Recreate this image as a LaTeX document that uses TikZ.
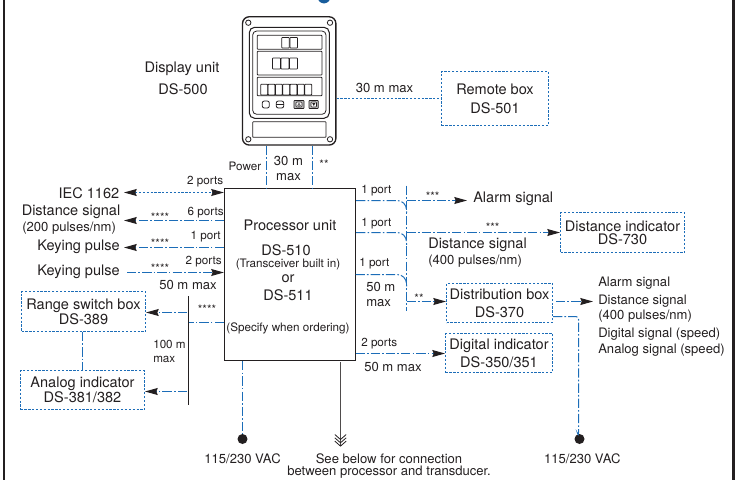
\documentclass[tikz,border=0pt]{standalone}
\usepackage{fontspec}
\setmainfont{TeX Gyre Heros}
\usetikzlibrary{arrows.meta}
\definecolor{linkblue}{HTML}{1C6DB8}
\definecolor{inkdark}{HTML}{231F20}
\newcommand{\fbig}{\fontsize{10.9pt}{12pt}\selectfont}
\newcommand{\fmid}{\fontsize{9.8pt}{11.5pt}\selectfont}
\newcommand{\fsmall}{\fontsize{8.75pt}{10.5pt}\selectfont}

\begin{document}
\begin{tikzpicture}[x=0.75pt,y=-0.75pt,>={Stealth[length=9.5pt,width=5.2pt,inset=1pt,color=inkdark]}]
	\tikzset{txt/.style = {inner sep=0pt,text=inkdark,align=center},
		big/.style = {txt,font=\fbig},
		mid/.style = {txt,font=\fmid},
		small/.style = {txt,font=\fsmall},
		unitbox/.style = {shape=rectangle,draw=linkblue,line width=0.75pt,dash pattern=on 1.7pt off 1.2pt,inner sep=0pt,text=inkdark,align=center,font=\fbig},
		dotlink/.style = {draw=linkblue,line width=0.75pt,dash pattern=on 1.7pt off 1.2pt},
		sigline/.style = {draw=linkblue,line width=0.75pt,dash pattern=on 7pt off 1.6pt on 1.2pt off 1.6pt},
		panel/.style = {draw=inkdark,line width=0.6pt,rounded corners=0.5pt},
		feed/.style = {circle,fill=inkdark,inner sep=0pt,minimum size=7.5pt}}
	\clip (0,0) rectangle (739,479);
	% frame and what is left of the heading
	\fill[linkblue!85!black] (324,-3) circle (4.8pt);
	\draw[inkdark,line width=1.9pt] (4,-5) -- (4,485);
	\draw[inkdark,line width=1.9pt] (733.5,-5) -- (733.5,485);

	% display unit
	\node[shape=rectangle,draw=inkdark,line width=1pt,rounded corners=5pt,minimum width=70pt,minimum height=96.2pt] (display) at (289.2,80.9) {};
	\draw[panel,line width=0.8pt,rounded corners=4pt] (249.3,27.3) rectangle (329.3,118.3);
	\draw[panel,rounded corners=3pt] (252.7,31) rectangle (326,114.3);
	\draw[panel] (257.3,35.3) rectangle (322,49.3);
	\draw[panel] (257.3,51.3) rectangle (322,75);
	\draw[panel] (257.3,77.3) rectangle (322,95.7);
	\draw[panel] (252.7,121.7) rectangle (326,137.3);
	\foreach \cx in {281.7,289.9} \draw[panel] (\cx,37.5) rectangle +(7.6,10.5);
	\foreach \cx in {272.5,281,289.5} \draw[panel] (\cx,58) rectangle +(8,11);
	\foreach \n in {0,...,6} \draw[panel] (260.7+\n*7.33,84.3) rectangle +(7,10.7);
	\draw[panel,rounded corners=1.5pt] (262.3,101) rectangle (269.3,108);
	\draw[panel,rounded corners=1.5pt] (276.3,101) rectangle (283.7,108);
	\draw[panel] (276.3,104) -- (283.7,104);
	\draw[panel,fill=black!25] (294,100.5) rectangle (304,108.5);
	\draw[panel,fill=white,line width=0.4pt] (296,102) rectangle (302,107);
	\draw[panel,fill=black!25] (309,100.5) rectangle (318.3,108.5);
	\draw[panel,fill=white,line width=0.4pt] (311,102) rectangle (316.5,107);
	\draw[panel,line width=0.4pt] (299,103) -- (297.4,106) -- (300.6,106) -- cycle;
	\fill[inkdark] (313.8,106) -- (312.2,103) -- (315.4,103) -- cycle;
	\foreach \sx/\sy in {248.3/22.7,330/22.7,248.3/139.3,330/139.3}
		\draw[inkdark,fill=white,line width=0.6pt] (\sx,\sy) circle (2pt);

	% units
	\node[shape=rectangle,draw=inkdark,line width=0.9pt,minimum width=98.25pt,minimum height=129pt,inner sep=0pt] (proc) at (290,274.5) {};
	\node[unitbox,minimum width=80.25pt,minimum height=40.5pt] (remote) at (495,98.5) {Remote box\\[2.2pt]DS-501};
	\node[unitbox,minimum width=93pt,minimum height=30pt] (distind) at (622.5,232.5) {Distance indicator\\[-2pt]DS-730};
	\node[unitbox,minimum width=79.5pt,minimum height=29.25pt] (distbox) at (499.5,303) {Distribution box\\[1.5pt]DS-370};
	\node[unitbox,minimum width=80.25pt,minimum height=29.25pt] (digind) at (499,353) {Digital indicator\\[1.5pt]DS-350/351};
	\node[unitbox,minimum width=93pt,minimum height=30pt] (rangebox) at (83.5,311.5) {Range switch box\\[-1pt]DS-389};
	\node[unitbox,minimum width=93pt,minimum height=29.25pt] (analog) at (82.5,390) {Analog indicator\\[-1pt]DS-381/382};

	% text in the processor unit
	\node[big] (procname) at (290,225) {Processor unit};
	\node[big] (ds510) at (286,250) {DS-510};
	\node[small] (built) at (288,264) {(Transceiver built in)};
	\node[big] (orword) at (288,279) {or};
	\node[big] (ds511) at (288,295) {DS-511};
	\node[small] (specify) at (288,328) {(Specify when ordering)};

	% labels upper part
	\node[big] (dispname) at (182,69) {Display unit};
	\node[big] (dispno) at (183,89) {DS-500};
	\node[mid] (remlen) at (384.5,87.5) {30 m max};
	\node[small] (power) at (245,166) {Power};
	\node[mid] (lenA) at (288.5,161) {30 m};
	\node[mid] (lenB) at (288.5,177) {max};
	\node[small] (twostar) at (324,164.5) {**};

	% left side
	\node[big,anchor=east] (iec) at (119.5,193) {IEC 1162};
	\node[small,anchor=east] (iecports) at (223.5,182) {2 ports};
	\node[big,anchor=east] (dist) at (120.5,212) {Distance signal};
	\node[mid,anchor=west] (distnote) at (22,228) {(200 pulses/nm)};
	\node[small,anchor=east] (distports) at (224,212.5) {6 ports};
	\node[small] (starA) at (160,217.5) {****};
	\node[small,anchor=east] (keyport) at (221,237) {1 port};
	\node[big,anchor=east] (keyA) at (120,247) {Keying pulse};
	\node[small] (starB) at (160,243.5) {****};
	\node[big,anchor=east] (keyB) at (120,272) {Keying pulse};
	\node[small] (starC) at (160,268.5) {****};
	\node[small,anchor=east] (keyports) at (222,262) {2 ports};
	\node[mid] (keylen) at (188,285) {50 m max};
	\node[small] (starD) at (207,309.5) {****};
	\node[small,anchor=west] (lenC) at (153,344.5) {100 m};
	\node[small,anchor=west] (lenD) at (153,359) {max};

	% right side
	\node[small,anchor=west] (portA) at (361,191) {1 port};
	\node[big,anchor=west] (alarm) at (473,199) {Alarm signal};
	\node[small] (starE) at (432.7,196.5) {***};
	\node[small,anchor=west] (portB) at (361,224) {1 port};
	\node[small] (starF) at (492.7,227.5) {***};
	\node[big,anchor=west] (distsig) at (428,245) {Distance signal};
	\node[mid,anchor=west] (distsigB) at (428,260.7) {(400 pulses/nm)};
	\node[small,anchor=west] (portC) at (359,264) {1 port};
	\node[mid,anchor=west] (lenE) at (366,287) {50 m};
	\node[mid,anchor=west] (lenF) at (366,302.6) {max};
	\node[small] (starG) at (419,298.5) {**};
	\node[small,anchor=west] (portD) at (361,344) {2 ports};
	\node[mid,anchor=west] (lenG) at (364,367) {50 m max};
	\node[mid,anchor=west] (outA) at (598,283.5) {Alarm signal};
	\node[mid,anchor=west] (outB) at (598,301) {Distance signal};
	\node[mid,anchor=west] (outC) at (598,316) {(400 pulses/nm)};
	\node[mid,anchor=west] (outD) at (598,334.5) {Digital signal (speed)};
	\node[mid,anchor=west] (outE) at (598,350.5) {Analog signal (speed)};

	% bottom
	\node[feed] (feedA) at (242.5,439) {};
	\node[feed] (feedB) at (579.5,439) {};
	\node[mid] (vacA) at (242.5,459) {115/230 VAC};
	\node[mid] (vacB) at (582.3,459) {115/230 VAC};
	\node[mid] (seeA) at (389,458.7) {See below for connection};
	\node[mid] (seeB) at (389,472) {between processor and transducer.};

	% free ends and joints
	\coordinate (iecend) at (124,192.5);
	\coordinate (distend) at (124,220.5);
	\coordinate (keyAend) at (124,247.5);
	\coordinate (keyBend) at (127,272.5);
	\coordinate (pwrA) at (266.5,167);
	\coordinate (pwrB) at (312.5,167);
	\coordinate (barT) at (188.5,296);
	\coordinate (barB) at (188.5,404.5);
	\coordinate (barC) at (188.5,322.5);
	\coordinate (barD) at (187,312.5);
	\coordinate (barE) at (187,391.5);
	\coordinate (busT) at (406.5,185.5);
	\coordinate (busB) at (406.5,311);
	\coordinate (busA) at (406.5,200.5);
	\coordinate (busD) at (406.5,232.5);
	\coordinate (busF) at (406.5,301.5);
	\coordinate (joinA) at (406.5,213);
	\coordinate (joinB) at (406.5,246);
	\coordinate (joinC) at (406.5,288);
	\coordinate (levC) at (355.5,274.5);
	\coordinate (alarmtip) at (467,200.5);
	\coordinate (digy) at (355.5,353.5);
	\coordinate (outtail) at (556,301.5);
	\coordinate (outtip) at (593,301.5);
	\coordinate (drop) at (553,316.5);
	\coordinate (dropB) at (578.5,436);
	\coordinate (seeT) at (340.5,362);
	\coordinate (seeE) at (340.5,446);

	% connectors
	\draw[dotlink] (display.east |- remote) -- (remote.west);
	\draw[sigline] (display.south -| pwrA) -- (proc.north -| pwrA);
	\draw[sigline] (display.south -| pwrB) -- (proc.north -| pwrB);
	\draw[dotlink,<->] (iecend) -- (proc.west |- iecend);
	\draw[sigline,->] (proc.west |- distend) -- (distend);
	\draw[sigline,->] (proc.west |- keyAend) -- (keyAend);
	\draw[sigline,->] (keyBend) -- (proc.west |- keyBend);
	\draw[inkdark,line width=0.8pt] (barT) -- (barB);
	\draw[sigline] (proc.west |- barC) -- (barC);
	\draw[sigline,->] (barD) -- (rangebox.east |- barD);
	\draw[sigline,->] (barE) -- (analog.east |- barE);
	\draw[sigline] (rangebox.south -| analog) -- (analog.north);
	\draw[sigline] (proc.south -| feedA) -- (feedA);
	\draw[sigline] (busT) -- (busB);
	\draw[sigline,rounded corners=7pt] (proc.east |- busA) -| (joinA);
	\draw[sigline,rounded corners=7pt] (proc.east |- busD) -| (joinB);
	\draw[sigline,rounded corners=7pt] (levC) -| (joinC);
	\draw[sigline,->] (busA) -- (alarmtip);
	\draw[sigline,->] (busD) -- (distind.west |- busD);
	\draw[sigline,->] (busF) -- (distbox.west |- busF);
	\draw[sigline,->] (digy) -- (digind.west |- digy);
	\draw[sigline,->] (outtail) -- (outtip);
	\draw[sigline,rounded corners=2pt] (drop) -| (dropB) -- (feedB);
	\draw[inkdark!80,line width=0.8pt] (seeT) -- (seeE);
	\foreach \dy in {0,3.3,6.6}
		\draw[inkdark,line width=0.6pt] (334.8,434.5+\dy) -- (340.5,439.5+\dy) -- (346.2,434.5+\dy);
\end{tikzpicture}
\end{document}
